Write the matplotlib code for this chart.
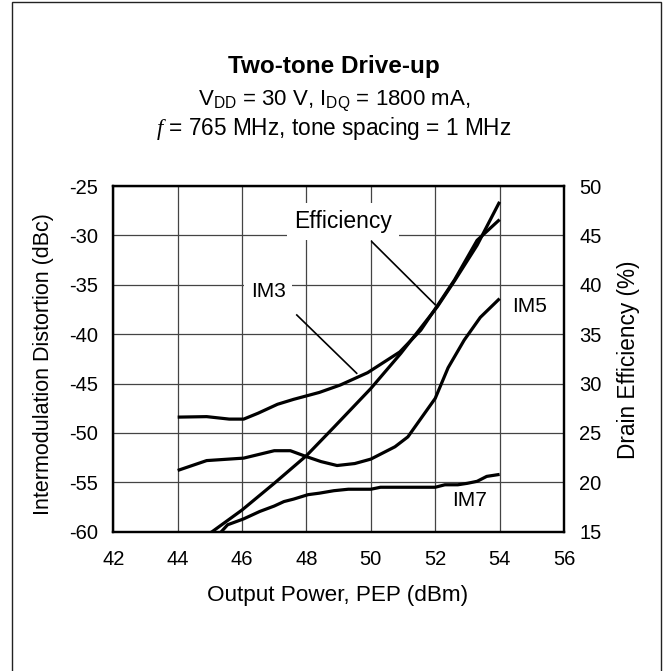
import numpy as np
import matplotlib
matplotlib.use("Agg")
import matplotlib.pyplot as plt
from matplotlib.patches import Rectangle

plt.rcParams['font.family'] = ['Liberation Sans', 'DejaVu Sans']
plt.rcParams['mathtext.fontset'] = 'custom'
plt.rcParams['mathtext.rm'] = 'Liberation Sans'
plt.rcParams['mathtext.it'] = 'Liberation Serif:italic'
plt.rcParams['axes.unicode_minus'] = False

# data
p_im3 = [44, 44.9, 45.6, 46.05, 46.5, 47.1, 47.6, 48.4, 49.05, 49.9, 50.9, 51.55, 52.05, 52.6, 53.3, 54]
im3 = [-48.4, -48.35, -48.6, -48.6, -48.0, -47.1, -46.6, -45.9, -45.15, -43.9, -41.8, -39.6, -37.2, -34.5, -30.5, -28.4]

p_im5 = [44, 44.9, 46.05, 47, 47.5, 48, 48.45, 48.95, 49.5, 50, 50.75, 51.15, 52, 52.4, 52.9, 53.4, 54]
im5 = [-53.8, -52.8, -52.55, -51.8, -51.8, -52.4, -52.9, -53.3, -53.1, -52.65, -51.4, -50.4, -46.5, -43.4, -40.6, -38.3, -36.4]

p_im7 = [45.3, 45.55, 46.05, 46.55, 47.0, 47.3, 47.6, 48.05, 48.4, 48.85, 49.3, 50.0, 50.3, 52.0, 52.3, 52.7, 53.0, 53.3, 53.6, 54.0]
im7 = [-60.2, -59.3, -58.7, -57.95, -57.4, -56.95, -56.7, -56.25, -56.1, -55.85, -55.7, -55.7, -55.5, -55.5, -55.25, -55.25, -55.1, -54.9, -54.4, -54.2]

p_eff = [44, 45.07, 46, 47, 48, 48.86, 50, 50.93, 52.07, 52.6, 53.3, 54]
eff = [12.8, 15, 17.2, 19.9, 22.7, 25.6, 29.5, 33.05, 37.8, 40.4, 44.0, 48.4]

xticks = [42, 44, 46, 48, 50, 52, 54, 56]
left_ticks = [-25, -30, -35, -40, -45, -50, -55, -60]
right_ticks = [50, 45, 40, 35, 30, 25, 20, 15]

W, H = 665, 671
fig = plt.figure(figsize=(W / 100, H / 100), dpi=100)
ax = fig.add_axes([113.3 / W, 1 - 531.7 / H, 450.7 / W, 345.7 / H])
ax2 = ax.twinx()

fs = 14.5
lw = 2.3

ax.plot(p_im3, im3, color='black', lw=lw, solid_capstyle='butt')
ax.plot(p_im5, im5, color='black', lw=lw, solid_capstyle='butt')
ax.plot(p_im7, im7, color='black', lw=lw, solid_capstyle='butt')
ax2.plot(p_eff, eff, color='black', lw=lw, solid_capstyle='butt')

ax.set_xlim(42, 56)
ax.set_ylim(-60, -25)
ax2.set_ylim(15, 50)
ax.set_xticks(xticks)
ax.set_yticks(left_ticks)
ax2.set_yticks(right_ticks)
ax.grid(True, color='#444444', lw=0.9)
ax.set_axisbelow(True)
ax.tick_params(length=0, labelsize=fs, pad=11)
ax.tick_params(axis='x', pad=13)
ax2.tick_params(length=0, labelsize=fs, pad=11)
for a in (ax, ax2):
    for s in a.spines.values():
        s.set_linewidth(1.6)
        s.set_color('black')

# curve labels
ax.text(49.14, -28.6, 'Efficiency', fontsize=16.5, ha='center', va='center',
        bbox=dict(facecolor='white', edgecolor='none', pad=5), zorder=5)
ax.plot([50.03, 51.99], [-30.64, -36.99], color='black', lw=1.2)
ax.text(46.81, -35.7, 'IM3', fontsize=15, ha='center', va='center',
        bbox=dict(facecolor='white', edgecolor='none', pad=5), zorder=5)
ax.plot([47.7, 49.56], [-38.06, -43.96], color='black', lw=1.2)
ax.text(54.94, -37.22, 'IM5', fontsize=15, ha='center', va='center')
ax.text(53.08, -56.8, 'IM7', fontsize=15, ha='center', va='center')

# titles and axis labels
fig.text(334 / W, 1 - 73 / H, 'Two-tone Drive-up', fontsize=17.5, fontweight='bold',
         ha='center', va='baseline')
fig.text(334 / W, 1 - 105 / H, r'V$_{\mathrm{DD}}$ = 30 V, I$_{\mathrm{DQ}}$ = 1800 mA,',
         fontsize=16, ha='center', va='baseline')
fig.text(334 / W, 1 - 135 / H, r'$\it{f}$ = 765 MHz, tone spacing = 1 MHz',
         fontsize=16.3, ha='center', va='baseline')
fig.text(44 / W, 1 - 364 / H, 'Intermodulation Distortion (dBc)', fontsize=15.5,
         rotation=90, ha='center', va='center')
fig.text(629 / W, 1 - 360 / H, 'Drain Efficiency (%)', fontsize=16.3,
         rotation=90, ha='center', va='center')
fig.text(337.5 / W, 1 - 595 / H, 'Output Power, PEP (dBm)', fontsize=16.2,
         ha='center', va='center')

# outer frame
fig.patches.append(Rectangle((12 / W, -0.02), 649 / W, 1.017, transform=fig.transFigure,
                             fill=False, edgecolor='#222222', lw=1.0))

fig.savefig('out.png', dpi=100)
